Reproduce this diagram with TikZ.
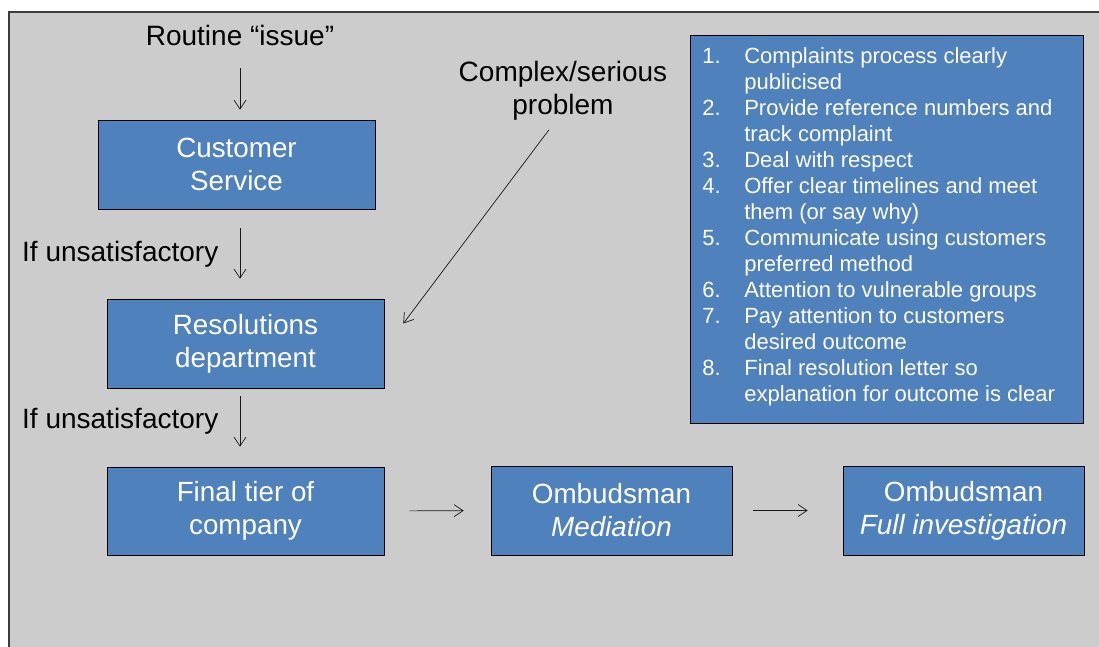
\documentclass[tikz,border=0pt]{standalone}
\usepackage{fontspec}
\setmainfont{Liberation Sans}
\usepackage{xcolor}
\usepackage{tikz}
\usetikzlibrary{arrows.meta,positioning,calc}
\definecolor{panelgray}{HTML}{CCCCCC}
\definecolor{stepblue}{HTML}{4F81BD}
\definecolor{framegray}{HTML}{3C3C3C}
\tikzstyle{tier}=[draw=black, line width=0.6pt, fill=stepblue, text=white, align=center,
  font=\fontsize{27.8}{33}\selectfont, inner sep=0pt]
\tikzstyle{flow}=[-{Straight Barb[length=9pt,width=12pt]}, line width=0.7pt, draw=black!90]

\begin{document}
\begin{tikzpicture}[x=1pt, y=-1pt,
  note/.style={font=\fontsize{28}{33}\selectfont, text=black, inner sep=0pt},
  listbox/.style={draw=black, line width=0.6pt, fill=stepblue, text=white,
                  font=\fontsize{22}{26}\selectfont, inner sep=0pt}]
\useasboundingbox (0,0) rectangle (1099,647);
% panel
\draw[framegray, line width=1.2pt, fill=panelgray] (9,12) rectangle (1112,660);

% labels
\node[note, anchor=base] (routine) at (240,46) {Routine “issue”};
\node[note, align=center] (complex) at (563,91) {Complex/serious\\problem};
\node[note, anchor=base west] (unsat1) at (22,261) {If unsatisfactory};
\node[note, anchor=base west] (unsat2) at (22,428) {If unsatisfactory};

% tiers
\node[tier, minimum width=277pt, minimum height=89pt] (cs)  at (236.5,164.5) {Customer\\Service};
\node[tier, minimum width=277pt, minimum height=89pt] (res) at (245.5,343.5) {Resolutions\\department};
\node[tier, minimum width=277pt, minimum height=88pt] (fin) at (245.5,511) {Final tier of\\company};
\node[tier, minimum width=241pt, minimum height=89pt] (med) at (611.5,510.5) {Ombudsman\\\textit{Mediation}};
\node[tier, minimum width=241pt, minimum height=89pt] (full) at (963.5,510.5) {Ombudsman\\\textit{Full investigation}};

% good practice list
\node[listbox, anchor=north west, minimum width=393pt, minimum height=388pt] (steps) at (690,35) {%
  \begin{tabular}{@{}p{42pt}@{}p{327pt}@{}}
  1. & Complaints process clearly\newline publicised\\
  2. & Provide reference numbers and\newline track complaint\\
  3. & Deal with respect\\
  4. & Offer clear timelines and meet\newline them (or say why)\\
  5. & Communicate using customers\newline preferred method\\
  6. & Attention to vulnerable groups\\
  7. & Pay attention to customers\newline desired outcome\\
  8. & Final resolution letter so\newline explanation for outcome is clear\\[4pt]
  \end{tabular}};

% connectors
\draw[flow, shorten <=22pt, shorten >=10pt] (routine.south) -- (routine.south |- cs.north);
\draw[flow, shorten <=19pt, shorten >=20pt] ([xshift=3.5pt]cs.south) -- ([xshift=-5.5pt]res.north);
\draw[flow, shorten <=8pt, shorten >=20pt] ([xshift=-5.5pt]res.south) -- ([xshift=-5.5pt]fin.north);
\coordinate (hit) at ($(res.east)+(19,-20)$);
\draw[flow] ($(complex.south)+(-14,9)$) -- (hit);
\draw[flow, shorten <=25pt, shorten >=27pt] (fin.east) -- (med.west);
\draw[flow, shorten <=21pt, shorten >=35pt] (med.east) -- (full.west);
\end{tikzpicture}
\end{document}
